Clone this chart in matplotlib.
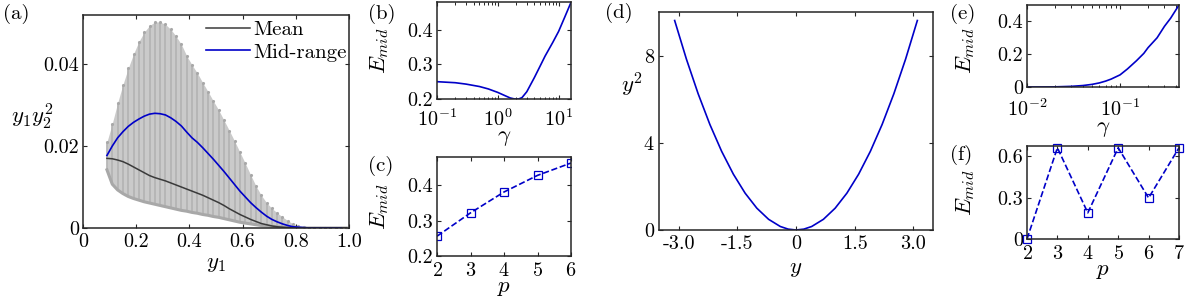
import matplotlib
matplotlib.use('Agg')
import matplotlib.pyplot as plt
import numpy as np

plt.rcParams['font.family'] = 'serif'
plt.rcParams['font.serif'] = ['cmr10']
plt.rcParams['mathtext.fontset'] = 'cm'
plt.rcParams['axes.unicode_minus'] = False
plt.rcParams['axes.formatter.use_mathtext'] = True
plt.rcParams['font.size'] = 14.5

BLUE = '#0000c8'
LAB = 16.5

# (a) spread of y1*y2^2 over y1
y1 = [0.09, 0.11, 0.13, 0.15, 0.17, 0.19, 0.21, 0.23, 0.25, 0.27, 0.29, 0.31,
      0.33, 0.35, 0.37, 0.39, 0.41, 0.43, 0.45, 0.47, 0.49, 0.51, 0.53, 0.55,
      0.57, 0.59, 0.61, 0.63, 0.65, 0.67, 0.69, 0.71, 0.73, 0.75, 0.77, 0.79,
      0.81, 0.83, 0.85, 0.87, 0.89, 0.91, 0.93, 0.95, 0.97, 0.99]
upper = [0.0210, 0.0255, 0.0305, 0.0350, 0.0390, 0.0425, 0.0455, 0.0478, 0.0494,
         0.0503, 0.0503, 0.0497, 0.0485, 0.0468, 0.0448, 0.0420, 0.0398, 0.0378,
         0.0355, 0.0333, 0.0310, 0.0288, 0.0263, 0.0238, 0.0212, 0.0185, 0.0158,
         0.0130, 0.0103, 0.0080, 0.0062, 0.0048, 0.0037, 0.0027, 0.0018, 0.0010,
         0.0005, 0.0002, 0.0001, 0, 0, 0, 0, 0, 0, 0]
lower = [0.0142, 0.0107, 0.0093, 0.0084, 0.0077, 0.0072, 0.0068, 0.0064, 0.0061,
         0.0058, 0.0055, 0.0052, 0.0049, 0.0046, 0.0043, 0.0041, 0.0038, 0.0036,
         0.0033, 0.0031, 0.0028, 0.0026, 0.0023, 0.0020, 0.0017, 0.0014, 0.0012,
         0.0010, 0.0008, 0.0006, 0.0005, 0.0004, 0.0003, 0.0002, 0.0001, 0.0001,
         0, 0, 0, 0, 0, 0, 0, 0, 0, 0]
mean = [0.0170, 0.0169, 0.0166, 0.0162, 0.0156, 0.0149, 0.0142, 0.0135, 0.0128,
        0.0123, 0.0119, 0.0115, 0.0110, 0.0105, 0.0100, 0.0095, 0.0090, 0.0085,
        0.0080, 0.0074, 0.0068, 0.0062, 0.0055, 0.0047, 0.0040, 0.0033, 0.0027,
        0.0021, 0.0016, 0.0011, 0.0008, 0.0005, 0.0003, 0.0002, 0.0001, 0,
        0, 0, 0, 0, 0, 0, 0, 0, 0, 0]
midrange = [0.0177, 0.0200, 0.0220, 0.0235, 0.0248, 0.0258, 0.0266, 0.0273, 0.0278,
            0.0280, 0.0279, 0.0276, 0.0269, 0.0260, 0.0249, 0.0234, 0.0220, 0.0209,
            0.0196, 0.0182, 0.0168, 0.0153, 0.0138, 0.0122, 0.0106, 0.0090, 0.0076,
            0.0062, 0.0050, 0.0039, 0.0029, 0.0021, 0.0015, 0.0010, 0.0006, 0.0003,
            0.0002, 0.0001, 0, 0, 0, 0, 0, 0, 0, 0]

# (b) E_mid vs gamma
gam_b = [0.1, 0.2, 0.3, 0.5, 0.7, 1.0, 1.3, 1.6, 1.9, 2.2, 2.5, 3.0, 4.0, 5.0,
         6.0, 8.0, 10, 12.6, 16]
emid_b = [0.250, 0.247, 0.243, 0.236, 0.229, 0.219, 0.210, 0.203, 0.200, 0.200,
          0.204, 0.221, 0.262, 0.296, 0.324, 0.363, 0.395, 0.436, 0.479]

# (c) E_mid vs p
p_c = [2, 3, 4, 5, 6]
emid_c = [0.256, 0.322, 0.381, 0.428, 0.463]

# (d) y^2 vs y
y_d = [-3.1, -2.8, -2.5, -2.2, -1.9, -1.6, -1.3, -1.0, -0.7, -0.4, -0.2, 0,
       0.2, 0.4, 0.7, 1.0, 1.3, 1.6, 1.9, 2.2, 2.5, 2.8, 3.1]
y2_d = [9.61, 7.84, 6.25, 4.84, 3.61, 2.56, 1.69, 1.00, 0.49, 0.16, 0.04, 0,
        0.04, 0.16, 0.49, 1.00, 1.69, 2.56, 3.61, 4.84, 6.25, 7.84, 9.61]

# (e) E_mid vs gamma
gam_e = [0.01, 0.015, 0.02, 0.03, 0.04, 0.05, 0.06, 0.07, 0.08, 0.1, 0.12, 0.15,
         0.18, 0.2, 0.25, 0.3, 0.35, 0.43]
emid_e = [0.0, 0.0005, 0.001, 0.004, 0.009, 0.016, 0.025, 0.036, 0.048, 0.074,
          0.11, 0.16, 0.205, 0.24, 0.30, 0.37, 0.42, 0.50]

# (f) E_mid vs p
p_f = [2, 3, 4, 5, 6, 7]
emid_f = [0.0, 0.662, 0.19, 0.662, 0.298, 0.662]

fig = plt.figure(figsize=(11.96, 2.99), dpi=100)
W, H = 1196, 299


def add_ax(l, t, r, b):
    return fig.add_axes([l / W, 1 - b / H, (r - l) / W, (b - t) / H])


def style(ax, xpad=4):
    ax.tick_params(direction='in', top=True, right=True, length=3, width=0.8,
                   colors='#262626', labelcolor='black')
    ax.tick_params(axis='y', pad=3)
    ax.tick_params(axis='x', pad=xpad)
    ax.tick_params(which='minor', direction='in', top=True, right=True,
                   length=1.8, width=0.6)
    for s in ax.spines.values():
        s.set_linewidth(1.1)
        s.set_color('#262626')


axa = add_ax(83, 15, 349, 228)
axb = add_ax(437, 2, 571, 99)
axc = add_ax(437, 157, 571, 256)
axd = add_ax(659, 12, 933, 230)
axe = add_ax(1027, 5, 1179, 87)
axf = add_ax(1027, 146, 1179, 239)

# (a)
axa.fill_between(y1, lower, upper, color='#cacaca', lw=0)
axa.vlines(y1, lower, upper, color='#b2b2b2', lw=1.2)
axa.plot(y1, upper, ls='none', marker='.', ms=2.5, color='#a8a8a8')
axa.plot(y1, lower, color='#a8a8a8', lw=2.2)
axa.plot(y1, mean, color='#3a3a3a', lw=1.1, label='Mean')
axa.plot(y1[:-1], midrange[:-1], color=BLUE, lw=1.2, label='Mid-range')
axa.set_xlim(0, 1.0)
axa.set_ylim(0, 0.052)
axa.set_xticks([0, 0.2, 0.4, 0.6, 0.8, 1.0])
axa.set_xticklabels(['0', '0.2', '0.4', '0.6', '0.8', '1.0'])
axa.set_yticks([0, 0.02, 0.04])
axa.set_yticklabels(['0', '0.02', '0.04'])
axa.set_xlabel('$y_1$', fontsize=LAB, labelpad=2)
axa.set_ylabel('$y_1y_2^2$', fontsize=LAB, rotation=0)
axa.yaxis.set_label_coords(-0.19, 0.45)
axa.legend(loc='upper right', bbox_to_anchor=(0.99, 0.975), frameon=False,
           borderaxespad=0, borderpad=0, handlelength=2.1, handletextpad=0.15,
           labelspacing=0.2, fontsize=15)
style(axa)

# (b)
axb.semilogx(gam_b, emid_b, color=BLUE, lw=1.2)
axb.set_xlim(0.1, 16)
axb.set_ylim(0.2, 0.48)
axb.set_yticks([0.2, 0.3, 0.4])
axb.set_yticklabels(['0.2', '0.3', '0.4'])
axb.set_xticks([0.1, 1, 10])
axb.set_xlabel(r'$\gamma$', fontsize=LAB, labelpad=-1)
axb.set_ylabel('$E_{mid}$', fontsize=LAB)
axb.yaxis.set_label_coords(-0.34, 0.5)
style(axb, xpad=6.5)

# (c)
axc.plot(p_c, emid_c, color=BLUE, ls='--', lw=1.2, marker='s', ms=6,
         mfc='none', mec=BLUE, mew=0.9)
axc.set_xlim(2, 6)
axc.set_ylim(0.2, 0.48)
axc.set_xticks([2, 3, 4, 5, 6])
axc.set_yticks([0.2, 0.3, 0.4])
axc.set_yticklabels(['0.2', '0.3', '0.4'])
axc.set_xlabel('$p$', fontsize=LAB, labelpad=-0.5)
axc.set_ylabel('$E_{mid}$', fontsize=LAB)
axc.yaxis.set_label_coords(-0.34, 0.5)
style(axc)

# (d)
axd.plot(y_d, y2_d, color=BLUE, lw=1.2)
axd.set_xlim(-3.5, 3.5)
axd.set_ylim(0, 10)
axd.set_xticks([-3.0, -1.5, 0, 1.5, 3.0])
axd.set_xticklabels(['-3.0', '-1.5', '0', '1.5', '3.0'])
axd.set_yticks([0, 4, 8])
axd.set_xlabel('$y$', fontsize=LAB, labelpad=4)
axd.set_ylabel('$y^2$', fontsize=LAB, rotation=0)
axd.yaxis.set_label_coords(-0.1, 0.6)
style(axd)

# (e)
axe.semilogx(gam_e, emid_e, color=BLUE, lw=1.2)
axe.set_xlim(0.01, 0.43)
axe.set_ylim(0, 0.5)
axe.set_xticks([0.01, 0.1])
axe.set_yticks([0, 0.2, 0.4])
axe.set_yticklabels(['0', '0.2', '0.4'])
axe.set_xlabel(r'$\gamma$', fontsize=LAB, labelpad=-0.5)
axe.set_ylabel('$E_{mid}$', fontsize=LAB)
axe.yaxis.set_label_coords(-0.33, 0.45)
style(axe, xpad=8)

# (f)
axf.plot(p_f, emid_f, color=BLUE, ls='--', lw=1.2, marker='s', ms=6,
         mfc='none', mec=BLUE, mew=0.9, clip_on=False)
axf.set_xlim(2, 7)
axf.set_ylim(0, 0.675)
axf.set_xticks([2, 3, 4, 5, 6, 7])
axf.set_yticks([0, 0.3, 0.6])
axf.set_yticklabels(['0', '0.3', '0.6'])
axf.set_xlabel('$p$', fontsize=LAB, labelpad=-0.5)
axf.set_ylabel('$E_{mid}$', fontsize=LAB)
axf.yaxis.set_label_coords(-0.33, 0.5)
style(axf)

# panel tags
for tx, ty, s in [(3, 4, '(a)'), (368, 4, '(b)'), (368, 156, '(c)'),
                  (605, 3, '(d)'), (950, 4, '(e)'), (950, 145, '(f)')]:
    fig.text(tx / W, 1 - ty / H, s, fontsize=15, ha='left', va='top')

fig.savefig('out.png', dpi=100)
